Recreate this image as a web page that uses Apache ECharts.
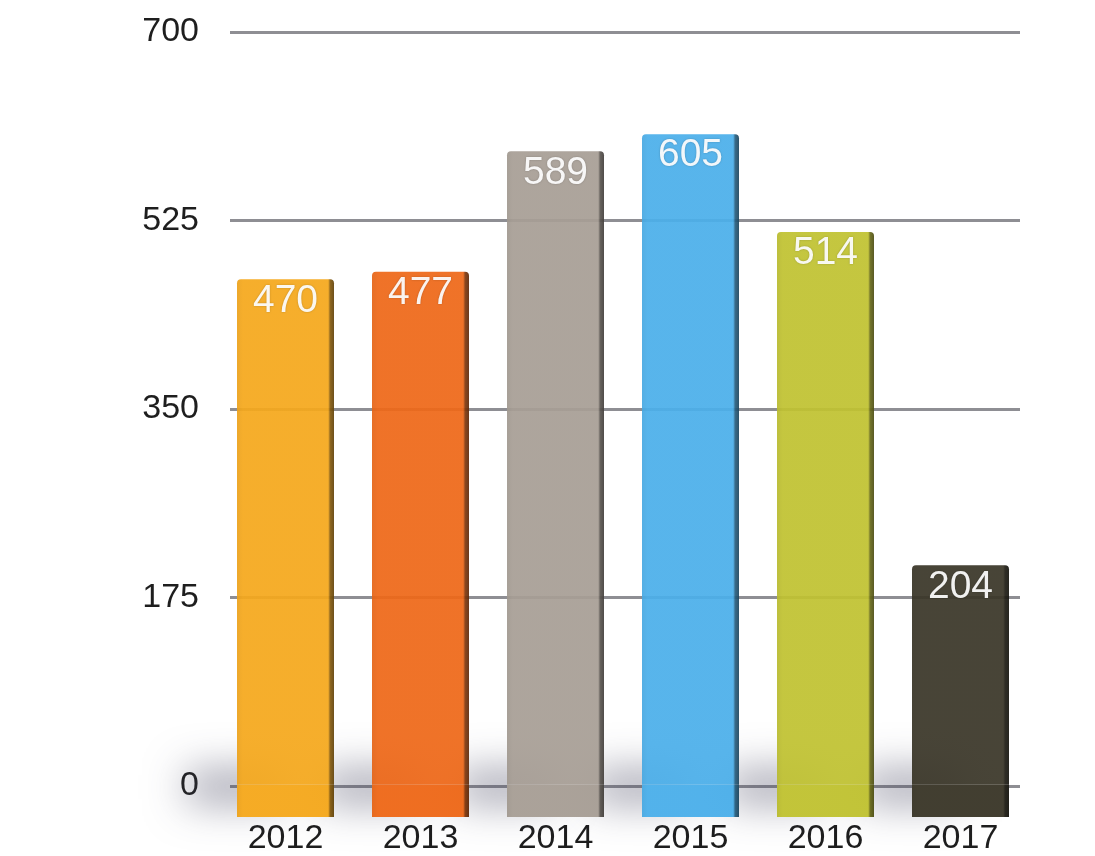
<!DOCTYPE html>
<html>
<head>
<meta charset="utf-8">
<script src="https://cdn.jsdelivr.net/npm/echarts@6/dist/echarts.min.js"></script>
<style>
  html, body { margin: 0; padding: 0; background: #fff; }
  #chart { width: 1095px; height: 856px; }
</style>
</head>
<body>
<div id="chart"></div>
<script>
// Yearly totals
const categories = ['2012', '2013', '2014', '2015', '2016', '2017'];
const values = [470, 477, 589, 605, 514, 204];
const barColors = ['#F5A81C', '#EE6818', '#A79E95', '#4BAFEA', '#C0C231', '#3A3628'];

// Value axis ticks
const axisMin = 0;
const axisMax = 700;
const axisStep = 175;

// Depth of the bar plinth drawn below the zero line (axis units)
const plinthDepth = 30;

function shade(hex, f) {
  const n = parseInt(hex.slice(1), 16);
  const r = Math.round(((n >> 16) & 255) * f);
  const g = Math.round(((n >> 8) & 255) * f);
  const b = Math.round((n & 255) * f);
  return 'rgb(' + r + ',' + g + ',' + b + ')';
}

function faceFill(c) {
  return {
    type: 'linear', x: 0, y: 0, x2: 1, y2: 0,
    colorStops: [
      { offset: 0, color: shade(c, 0.96) },
      { offset: 0.06, color: c },
      { offset: 0.94, color: c },
      { offset: 0.96, color: shade(c, 0.55) },
      { offset: 1, color: shade(c, 0.4) }
    ]
  };
}

const FONT = '"Liberation Sans", Arial, Helvetica, sans-serif';

const chart = echarts.init(document.getElementById('chart'), null, { renderer: 'canvas' });

chart.setOption({
  backgroundColor: '#ffffff',
  animation: false,
  grid: [
    { left: 230, right: 75, top: 32, bottom: 70 },
    { left: 218, right: 67, top: 32, bottom: 38 }
  ],
  xAxis: [
    { gridIndex: 0, type: 'category', data: categories, show: false },
    {
      gridIndex: 1, type: 'category', data: categories,
      axisLine: { show: false }, axisTick: { show: false },
      axisLabel: { color: '#1e1e1e', fontSize: 34, fontFamily: FONT, margin: 5 }
    }
  ],
  yAxis: [
    {
      gridIndex: 0, type: 'value', min: axisMin, max: axisMax, interval: axisStep,
      axisLine: { show: false }, axisTick: { show: false },
      axisLabel: { color: '#1e1e1e', fontSize: 34, fontFamily: FONT, margin: 31 },
      splitLine: { show: true, lineStyle: { color: '#8e8e93', width: 3 } }
    },
    {
      gridIndex: 1, type: 'value', min: axisMin - plinthDepth, max: axisMax, show: false,
      splitLine: { show: false }
    }
  ],
  series: [
    {
      type: 'line', xAxisIndex: 0, yAxisIndex: 0, data: [], silent: true
    },
    {
      // soft floor shadow cast to the left of each bar, kept beneath all bars
      name: 'floor shadow',
      type: 'bar', xAxisIndex: 1, yAxisIndex: 1, stack: 'shadow',
      barWidth: 97, barGap: '-100%',
      silent: true,
      data: categories.map(() => -plinthDepth),
      itemStyle: {
        color: 'rgba(255,255,255,1)',
        shadowColor: 'rgba(70,70,95,0.5)',
        shadowBlur: 40,
        shadowOffsetX: -50,
        shadowOffsetY: -14
      },
      z: 1
    },
    {
      name: 'plinth',
      type: 'bar', xAxisIndex: 1, yAxisIndex: 1, stack: 'total',
      barWidth: 97, barGap: '-100%',
      data: categories.map((c, i) => ({
        value: -plinthDepth,
        itemStyle: { color: faceFill(barColors[i]) }
      })),
      itemStyle: { opacity: 0.96 },
      z: 2
    },
    {
      name: 'total',
      type: 'bar', xAxisIndex: 1, yAxisIndex: 1, stack: 'total',
      barWidth: 97, barGap: '-100%',
      data: values.map((v, i) => ({
        value: v,
        itemStyle: { color: faceFill(barColors[i]), borderRadius: [4, 4, 0, 0] }
      })),
      itemStyle: { opacity: 0.93 },
      label: {
        show: true,
        position: 'insideTop',
        distance: 2,
        color: '#ffffff',
        fontSize: 39,
        fontFamily: FONT,
        textShadowColor: 'rgba(0,0,0,0.25)',
        textShadowBlur: 2
      },
      z: 3
    }
  ]
});
</script>
</body>
</html>
